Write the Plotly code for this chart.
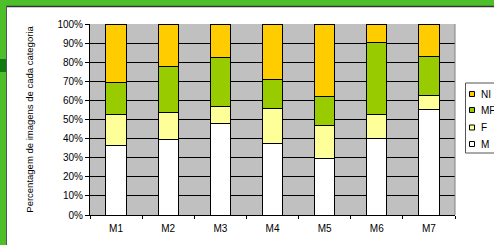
import plotly.graph_objects as go

categories = ["M1", "M2", "M3", "M4", "M5", "M6", "M7"]
M = [36.6, 39.3, 48.0, 37.2, 29.5, 40.3, 55.5]
F = [15.8, 14.3, 8.7, 18.7, 17.6, 12.1, 7.3]
MF = [17.1, 24.4, 25.9, 15.1, 15.2, 38.0, 20.1]
NI = [30.5, 22.0, 17.4, 29.0, 37.7, 9.6, 17.1]
series_names = ["M", "F", "MF", "NI"]
colors = ["#FFFFFF", "#FFFF99", "#99CC00", "#FFCC00"]
y_ticks = list(range(0, 101, 10))
y_tick_labels = [f"{t}%" for t in y_ticks]

W, H = 494, 245
L, R, T, B = 90, 39, 24, 30
PW, PH = W - L - R, H - T - B


def px(x):
    return (x - L) / PW


def py(y):
    return (H - B - y) / PH


fig = go.Figure()
for name, vals, col in zip(series_names, [M, F, MF, NI], colors):
    fig.add_trace(go.Bar(x=categories, y=vals, name=name,
                         marker=dict(color=col, line=dict(color="black", width=1)),
                         width=0.39, showlegend=False))

border_green = "#4CBF2A"
shapes = [
    dict(type="line", xref="paper", yref="paper", x0=1, x1=1, y0=0, y1=1, line=dict(color="#808080", width=1)),
    dict(type="rect", xref="paper", yref="paper", x0=px(0), x1=px(W), y0=py(6), y1=py(0),
         fillcolor=border_green, line=dict(width=0), layer="above"),
    dict(type="line", xref="paper", yref="paper", x0=px(6), x1=px(W), y0=py(6.5), y1=py(6.5),
         line=dict(color="#333333", width=1.5), layer="above"),
]
seg_edges = [0, 59, 72, 120, 170, 215, 245]
for a, b in zip(seg_edges[:-1], seg_edges[1:]):
    shapes.append(dict(type="rect", xref="paper", yref="paper", x0=px(0), x1=px(6), y0=py(b), y1=py(a),
                       fillcolor="#0E7A10" if a == 59 else border_green, line=dict(width=0), layer="above"))
    shapes.append(dict(type="rect", xref="paper", yref="paper", x0=px(6), x1=px(7), y0=py(b), y1=py(max(a, 6)),
                       fillcolor="#555555", line=dict(width=0), layer="above"))
shapes.append(dict(type="rect", xref="paper", yref="paper", x0=px(465.5), x1=px(W + 5), y0=py(153), y1=py(83),
                   fillcolor="white", line=dict(color="#555555", width=1), layer="above"))
annotations = []
legend_rows = [94, 110, 127.5, 144]
for (name, col), yrow in zip(list(zip(series_names, colors))[::-1], legend_rows):
    shapes.append(dict(type="rect", xref="paper", yref="paper", x0=px(469.5), x1=px(474.5),
                       y0=py(yrow + 2.5), y1=py(yrow - 2.5), fillcolor=col,
                       line=dict(color="black", width=1), layer="above"))
    annotations.append(dict(text=name, xref="paper", yref="paper", x=px(479), y=py(yrow),
                            xanchor="left", yanchor="middle", showarrow=False,
                            font=dict(size=10, color="black")))

fig.update_layout(
    barmode="stack",
    width=W, height=H,
    margin=dict(l=L, r=R, t=T, b=B, autoexpand=False),
    paper_bgcolor="white",
    plot_bgcolor="#C0C0C0",
    font=dict(family="Liberation Sans, Arial", size=10, color="black"),
    showlegend=False,
    xaxis=dict(showline=True, linecolor="black", linewidth=1, ticks="outside", tickson="boundaries",
               ticklen=3, tickcolor="black", showgrid=False, tickfont=dict(size=10), range=[-0.5, 6.5],
               ticklabelstandoff=4),
    yaxis=dict(range=[0, 100], tickvals=y_ticks, ticktext=y_tick_labels, showline=True, linecolor="black",
               ticks="outside", ticklen=4, tickcolor="black", showgrid=True, gridcolor="black", gridwidth=1,
               zeroline=False, tickfont=dict(size=10),
               title=dict(text="Percentagem de imagens de cada categoria", font=dict(size=9.5), standoff=22)),
    shapes=shapes,
    annotations=annotations,
)
fig.write_html("out.html", config={"displayModeBar": False},
               post_script="document.body.style.margin='0';document.body.style.padding='0';")
